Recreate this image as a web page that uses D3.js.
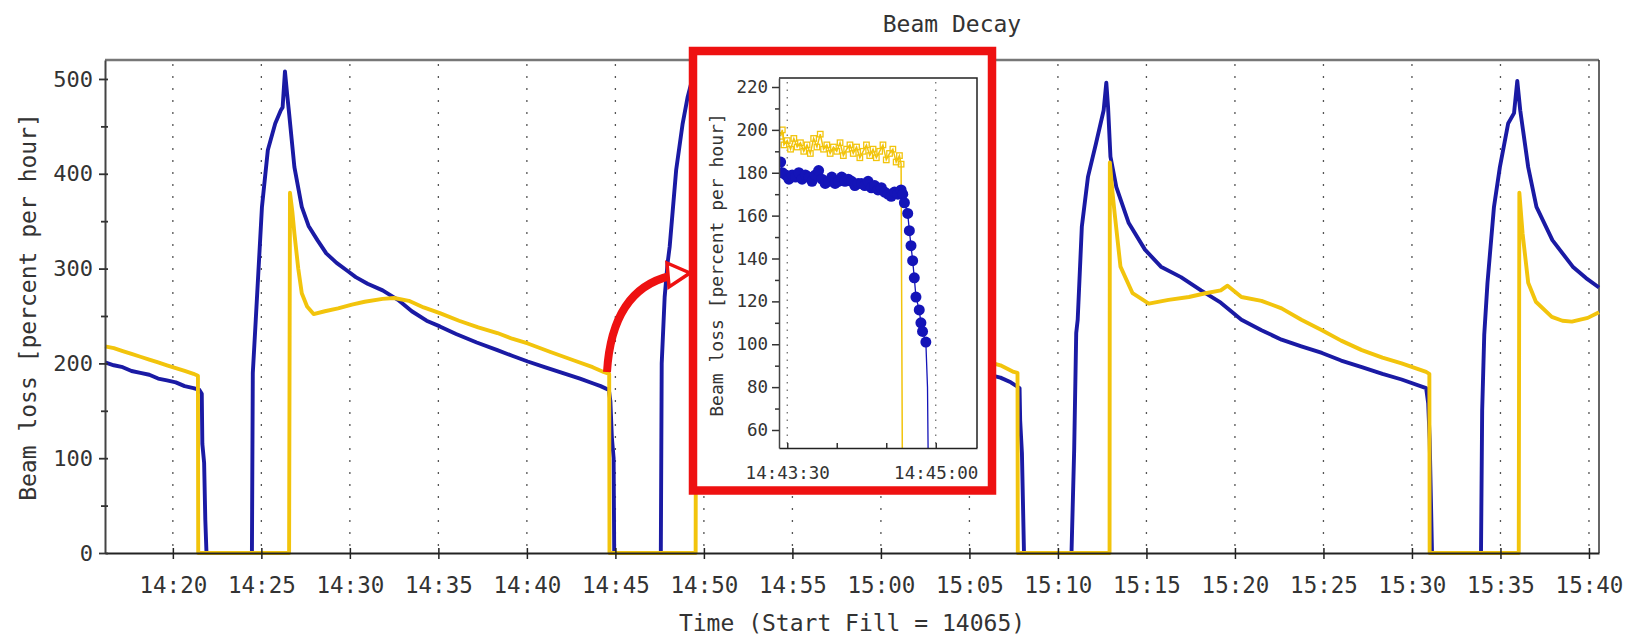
<!DOCTYPE html>
<html lang="en">
<head>
<meta charset="UTF-8">
<title>Beam Decay</title>
<script src="https://d3js.org/d3.v7.min.js"></script>
<style>
  body { margin: 0; background: #fff; }
  text { font-family: "DejaVu Sans Mono", monospace; fill: #333; }
</style>
</head>
<body>
<div id="chart"></div>
<script>
// beam loss [percent per hour] for the two beams, [time, value]
const blueLoss = [
  ["14:16:10", 201], ["14:16:40", 198], ["14:17:10", 196], ["14:17:40", 192], ["14:18:10", 190],
  ["14:18:40", 188], ["14:19:10", 184], ["14:19:40", 182], ["14:20:10", 180], ["14:20:40", 176],
  ["14:21:10", 174], ["14:21:30", 172], ["14:21:38", 168], ["14:21:40", 115], ["14:21:46", 95],
  ["14:21:50", 35], ["14:21:54", 0], ["14:24:28", 0], ["14:24:31", 190], ["14:24:41", 246],
  ["14:25:02", 365], ["14:25:22", 425], ["14:25:47", 453], ["14:26:06", 467], ["14:26:12", 470],
  ["14:26:20", 508], ["14:26:27", 485], ["14:26:33", 467], ["14:26:52", 407], ["14:27:17", 365],
  ["14:27:40", 345], ["14:28:10", 330], ["14:28:40", 316], ["14:29:15", 306], ["14:29:50", 298],
  ["14:30:20", 291], ["14:31:00", 284], ["14:31:51", 277], ["14:32:43", 267], ["14:33:30", 255],
  ["14:34:20", 245], ["14:35:05", 239], ["14:36:00", 231], ["14:37:10", 222], ["14:38:20", 214],
  ["14:39:10", 208], ["14:40:03", 202], ["14:41:00", 196], ["14:42:00", 190], ["14:43:00", 184],
  ["14:43:43", 179], ["14:44:10", 176], ["14:44:38", 172], ["14:44:43", 160], ["14:44:48", 122],
  ["14:44:54", 100], ["14:44:56", 0], ["14:47:34", 0], ["14:47:37", 200], ["14:47:47", 270],
  ["14:47:57", 306], ["14:48:04", 323], ["14:48:26", 404], ["14:48:48", 453], ["14:49:05", 481],
  ["14:49:25", 505], ["14:49:40", 470], ["14:50:10", 400], ["14:51:00", 345], ["14:52:30", 310],
  ["14:55:00", 275], ["14:58:00", 245], ["15:01:00", 220], ["15:04:00", 198], ["15:06:45", 185],
  ["15:07:20", 180], ["15:07:50", 174], ["15:07:52", 140], ["15:07:58", 105], ["15:08:05", 0],
  ["15:10:46", 0], ["15:10:48", 24], ["15:10:55", 108], ["15:11:02", 232], ["15:11:07", 246],
  ["15:11:21", 344], ["15:11:42", 397], ["15:12:09", 432], ["15:12:35", 467], ["15:12:44", 496],
  ["15:12:50", 470], ["15:12:58", 418], ["15:13:18", 386], ["15:14:00", 348], ["15:14:55", 320],
  ["15:15:49", 302], ["15:16:57", 291], ["15:18:05", 277], ["15:19:12", 264], ["15:20:22", 246],
  ["15:21:30", 235], ["15:22:38", 225], ["15:23:45", 218], ["15:24:55", 211], ["15:26:00", 203],
  ["15:27:10", 196], ["15:28:20", 189], ["15:29:25", 183], ["15:30:48", 174], ["15:30:55", 158],
  ["15:31:00", 120], ["15:31:08", 0], ["15:33:54", 0], ["15:33:58", 150], ["15:34:05", 230],
  ["15:34:16", 285], ["15:34:38", 365], ["15:34:58", 407], ["15:35:26", 453], ["15:35:46", 464],
  ["15:35:57", 498], ["15:36:07", 467], ["15:36:34", 407], ["15:37:02", 365], ["15:37:56", 330],
  ["15:39:05", 302], ["15:39:50", 290], ["15:40:34", 280]
];

const yellowLoss = [
  ["14:16:10", 218], ["14:16:40", 216], ["14:17:10", 213], ["14:17:40", 210], ["14:18:10", 207],
  ["14:18:40", 204], ["14:19:10", 201], ["14:19:40", 198], ["14:20:10", 195], ["14:20:40", 192],
  ["14:21:10", 189], ["14:21:25", 187], ["14:21:26", 0], ["14:26:34", 0], ["14:26:37", 380],
  ["14:26:45", 360], ["14:26:52", 337], ["14:27:05", 300], ["14:27:17", 274], ["14:27:35", 260],
  ["14:27:57", 252], ["14:28:35", 255], ["14:29:20", 258], ["14:30:07", 262], ["14:30:50", 265],
  ["14:31:51", 268], ["14:32:30", 269], ["14:33:20", 266], ["14:34:10", 259], ["14:35:05", 253],
  ["14:36:10", 245], ["14:37:15", 238], ["14:38:20", 232], ["14:39:10", 226], ["14:40:03", 221],
  ["14:41:20", 212], ["14:42:40", 203], ["14:43:43", 196], ["14:44:20", 191], ["14:44:39", 189],
  ["14:44:40", 0], ["14:49:32", 0], ["14:49:34", 380], ["14:50:00", 300], ["14:50:40", 262],
  ["14:52:00", 255], ["14:54:00", 265], ["14:56:00", 262], ["14:59:00", 245], ["15:02:00", 225],
  ["15:05:00", 207], ["15:06:45", 198], ["15:07:30", 191], ["15:07:43", 190], ["15:07:44", 0],
  ["15:12:55", 0], ["15:12:56", 412], ["15:13:05", 380], ["15:13:12", 359], ["15:13:32", 302],
  ["15:14:13", 274], ["15:15:08", 263], ["15:16:15", 267], ["15:17:24", 270], ["15:18:20", 274],
  ["15:19:12", 277], ["15:19:35", 282], ["15:20:22", 270], ["15:21:30", 266], ["15:22:38", 258],
  ["15:23:45", 246], ["15:24:55", 235], ["15:26:00", 224], ["15:27:10", 214], ["15:28:20", 206],
  ["15:29:25", 200], ["15:30:48", 191], ["15:30:59", 189], ["15:31:00", 0], ["15:36:02", 0],
  ["15:36:04", 380], ["15:36:15", 337], ["15:36:34", 285], ["15:37:00", 265], ["15:37:54", 249],
  ["15:38:30", 245], ["15:39:02", 244], ["15:39:56", 248], ["15:40:34", 254]
];

// inset: zoom on the dump around 14:44
const insetBlue = [
  ["14:43:26", 185], ["14:43:27", 180], ["14:43:29", 179], ["14:43:31", 177], ["14:43:33", 179],
  ["14:43:35", 178], ["14:43:37", 180], ["14:43:39", 177], ["14:43:41", 179], ["14:43:43", 178],
  ["14:43:45", 176], ["14:43:47", 179], ["14:43:49", 181], ["14:43:51", 177], ["14:43:53", 175],
  ["14:43:55", 176], ["14:43:57", 178], ["14:43:59", 175], ["14:44:01", 176], ["14:44:03", 178],
  ["14:44:05", 176], ["14:44:07", 177], ["14:44:09", 176], ["14:44:11", 174], ["14:44:13", 175],
  ["14:44:15", 175], ["14:44:17", 174], ["14:44:19", 176], ["14:44:21", 173], ["14:44:23", 174],
  ["14:44:25", 172], ["14:44:27", 173], ["14:44:29", 171], ["14:44:31", 170], ["14:44:33", 169],
  ["14:44:35", 171], ["14:44:37", 170], ["14:44:39", 172], ["14:44:40", 170], ["14:44:41", 166],
  ["14:44:43", 161], ["14:44:44", 153], ["14:44:45", 146], ["14:44:46", 139], ["14:44:47", 131],
  ["14:44:48", 122], ["14:44:50", 116], ["14:44:51", 110], ["14:44:52", 106], ["14:44:54", 101]
];
const insetBlueTail = [["14:44:54", 101], ["14:44:55", 80], ["14:44:56", 0]];

const insetYellow = [
  ["14:43:26", 197], ["14:43:27", 200], ["14:43:28", 193], ["14:43:30", 195], ["14:43:32", 191],
  ["14:43:34", 196], ["14:43:36", 192], ["14:43:38", 194], ["14:43:40", 190], ["14:43:42", 193],
  ["14:43:44", 189], ["14:43:46", 196], ["14:43:48", 192], ["14:43:50", 198], ["14:43:52", 191],
  ["14:43:54", 193], ["14:43:56", 189], ["14:43:58", 192], ["14:44:00", 190], ["14:44:02", 194],
  ["14:44:04", 188], ["14:44:06", 191], ["14:44:08", 193], ["14:44:10", 189], ["14:44:12", 192],
  ["14:44:14", 187], ["14:44:16", 190], ["14:44:18", 193], ["14:44:20", 188], ["14:44:22", 191],
  ["14:44:24", 187], ["14:44:26", 190], ["14:44:28", 193], ["14:44:30", 186], ["14:44:32", 189],
  ["14:44:34", 191], ["14:44:36", 185], ["14:44:38", 188], ["14:44:39", 184]
];
const insetYellowTail = [["14:44:39", 184], ["14:44:40", 0]];

const mainTicksY = [0, 100, 200, 300, 400, 500];
const mainMinorY = [50, 150, 250, 350, 450];
const insetTicksY = [60, 80, 100, 120, 140, 160, 180, 200, 220];
const insetMinorY = [70, 90, 110, 130, 150, 170, 190, 210];
const insetTicksX = ["14:43:30", "14:44:00", "14:44:30", "14:45:00"];
const insetLabelledX = ["14:43:30", "14:45:00"];

const BLUE = "#1a1aa4", YELLOW = "#f2c40c";
const parse = d3.timeParse("%H:%M:%S");

const svg = d3.select("#chart").append("svg")
  .attr("width", 1631)
  .attr("height", 639);

// ---- main plot ----
const x = d3.scaleTime()
  .domain([parse("14:16:10"), parse("15:40:34")])
  .range([105, 1599]);
const y = d3.scaleLinear().domain([0, 520]).range([553, 60]);

// dotted vertical grid
svg.append("g").selectAll("line")
  .data(x.ticks(d3.timeMinute.every(5)))
  .join("line")
  .attr("x1", d => x(d)).attr("x2", d => x(d))
  .attr("y1", 64).attr("y2", 553)
  .attr("stroke", "#555").attr("stroke-width", 1.3)
  .attr("stroke-dasharray", "2,10");

// top and right frame
svg.append("line").attr("x1", 105).attr("x2", 1599).attr("y1", 60).attr("y2", 60)
  .attr("stroke", "#777").attr("stroke-width", 2.5);
svg.append("line").attr("x1", 1599).attr("x2", 1599).attr("y1", 60).attr("y2", 553)
  .attr("stroke", "#333").attr("stroke-width", 1.5);

const line = d3.line().x(d => x(parse(d[0]))).y(d => y(d[1]));

svg.append("path").datum(blueLoss)
  .attr("d", line).attr("fill", "none")
  .attr("stroke", BLUE).attr("stroke-width", 3.9).attr("stroke-linejoin", "round");
svg.append("path").datum(yellowLoss)
  .attr("d", line).attr("fill", "none")
  .attr("stroke", YELLOW).attr("stroke-width", 3.9).attr("stroke-linejoin", "round");

// x axis
const xAxis = svg.append("g").attr("transform", "translate(0,553)")
  .call(d3.axisBottom(x).ticks(d3.timeMinute.every(5))
    .tickFormat(d3.timeFormat("%H:%M"))
    .tickSize(6).tickPadding(18).tickSizeOuter(0))
  .attr("font-size", 22.5);
xAxis.select(".domain").attr("stroke", "#222").attr("stroke-width", 2);
xAxis.selectAll(".tick line").attr("stroke", "#222").attr("stroke-width", 1.5);
svg.append("g").attr("transform", "translate(0,553)")
  .call(d3.axisTop(x).ticks(d3.timeMinute.every(5)).tickFormat("").tickSize(5))
  .call(g => g.select(".domain").remove())
  .selectAll(".tick line").attr("stroke", "#222").attr("stroke-width", 1.5);

// y axis
const yAxis = svg.append("g").attr("transform", "translate(105,0)")
  .call(d3.axisLeft(y).tickValues(mainTicksY).tickSize(6).tickPadding(6).tickSizeOuter(0))
  .attr("font-size", 22);
yAxis.select(".domain").attr("stroke", "#444").attr("stroke-width", 2);
yAxis.selectAll(".tick line").attr("stroke", "#333").attr("stroke-width", 1.8);
svg.append("g").attr("transform", "translate(105,0)")
  .call(d3.axisLeft(y).tickValues(mainMinorY).tickSize(4).tickFormat(""))
  .call(g => g.select(".domain").remove())
  .selectAll(".tick line").attr("stroke", "#333").attr("stroke-width", 1.8);
svg.append("g").attr("transform", "translate(105,0)")
  .call(d3.axisRight(y).tickValues(mainTicksY.concat(mainMinorY)).tickSize(3).tickFormat(""))
  .call(g => g.select(".domain").remove())
  .selectAll(".tick line").attr("stroke", "#333").attr("stroke-width", 1.8);

// titles
svg.append("text").attr("x", 952).attr("y", 32)
  .attr("text-anchor", "middle").attr("font-size", 23).text("Beam Decay");
svg.append("text").attr("x", 852).attr("y", 631)
  .attr("text-anchor", "middle").attr("font-size", 23).text("Time (Start Fill = 14065)");
svg.append("text").attr("transform", "translate(28,307) rotate(-90)")
  .attr("text-anchor", "middle").attr("dy", "0.35em").attr("font-size", 23)
  .text("Beam loss [percent per hour]");

// ---- arrow to the inset ----
svg.append("path")
  .attr("d", "M607,372 Q612,290 670,276")
  .attr("fill", "none").attr("stroke", "#ee1111").attr("stroke-width", 8);
svg.append("path")
  .attr("d", "M667,263 L690,273 L669,287 Z")
  .attr("fill", "#fff").attr("stroke", "#ee1111").attr("stroke-width", 3.5)
  .attr("stroke-linejoin", "miter");

// ---- inset ----
svg.append("rect")
  .attr("x", 693).attr("y", 51).attr("width", 299).attr("height", 439.5)
  .attr("fill", "#fff").attr("stroke", "#ee1111").attr("stroke-width", 8.5);

const xi = d3.scaleTime()
  .domain([parse("14:43:25"), parse("14:45:25")])
  .range([779, 977]);
const yi = d3.scaleLinear().domain([51.6, 224.2]).range([448, 78]);

svg.append("clipPath").attr("id", "insetClip")
  .append("rect").attr("x", 779).attr("y", 78).attr("width", 198).attr("height", 370);

svg.append("g").selectAll("line")
  .data(insetLabelledX.map(parse))
  .join("line")
  .attr("x1", d => xi(d)).attr("x2", d => xi(d))
  .attr("y1", 82).attr("y2", 448)
  .attr("stroke", "#666").attr("stroke-width", 1.2)
  .attr("stroke-dasharray", "1.5,6");

const lineI = d3.line().x(d => xi(parse(d[0]))).y(d => yi(d[1]));
const ins = svg.append("g").attr("clip-path", "url(#insetClip)");

ins.append("path").datum(insetYellow.concat(insetYellowTail.slice(1)))
  .attr("d", lineI).attr("fill", "none")
  .attr("stroke", YELLOW).attr("stroke-width", 1.5);
ins.selectAll(".sq").data(insetYellow).join("rect")
  .attr("class", "sq")
  .attr("x", d => xi(parse(d[0])) - 2.75).attr("y", d => yi(d[1]) - 2.75)
  .attr("width", 5.5).attr("height", 5.5)
  .attr("fill", "none").attr("stroke", YELLOW).attr("stroke-width", 1.3);

ins.append("path").datum(insetBlue.concat(insetBlueTail.slice(1)))
  .attr("d", lineI).attr("fill", "none")
  .attr("stroke", "#1414b8").attr("stroke-width", 1.3);
ins.selectAll(".dot").data(insetBlue).join("circle")
  .attr("class", "dot")
  .attr("cx", d => xi(parse(d[0]))).attr("cy", d => yi(d[1]))
  .attr("r", 5.5).attr("fill", "#1414b8");

// inset frame
svg.append("path").attr("d", "M779,78 H977 V448")
  .attr("fill", "none").attr("stroke", "#222").attr("stroke-width", 1.5);

const fmtI = d3.timeFormat("%H:%M:%S");
const xiAxis = svg.append("g").attr("transform", "translate(0,448)")
  .call(d3.axisBottom(xi).tickValues(insetTicksX.map(parse))
    .tickFormat(d => insetLabelledX.includes(fmtI(d)) ? fmtI(d) : "")
    .tickSizeInner(-5).tickSizeOuter(0).tickPadding(19))
  .attr("font-size", 17.5);
xiAxis.select(".domain").attr("stroke", "#222").attr("stroke-width", 1.5);
xiAxis.selectAll(".tick line").attr("stroke", "#333").attr("stroke-width", 1.5);

const yiAxis = svg.append("g").attr("transform", "translate(779,0)")
  .call(d3.axisLeft(yi).tickValues(insetTicksY).tickSize(7).tickPadding(4).tickSizeOuter(0))
  .attr("font-size", 17.5);
yiAxis.select(".domain").attr("stroke", "#444").attr("stroke-width", 1.5);
yiAxis.selectAll(".tick line").attr("stroke", "#333").attr("stroke-width", 1.5);
svg.append("g").attr("transform", "translate(779,0)")
  .call(d3.axisLeft(yi).tickValues(insetMinorY).tickSize(4).tickFormat(""))
  .call(g => g.select(".domain").remove())
  .selectAll(".tick line").attr("stroke", "#333").attr("stroke-width", 1.5);

svg.append("text").attr("transform", "translate(717,265) rotate(-90)")
  .attr("text-anchor", "middle").attr("dy", "0.35em").attr("font-size", 18)
  .text("Beam loss [percent per hour]");
</script>
</body>
</html>
